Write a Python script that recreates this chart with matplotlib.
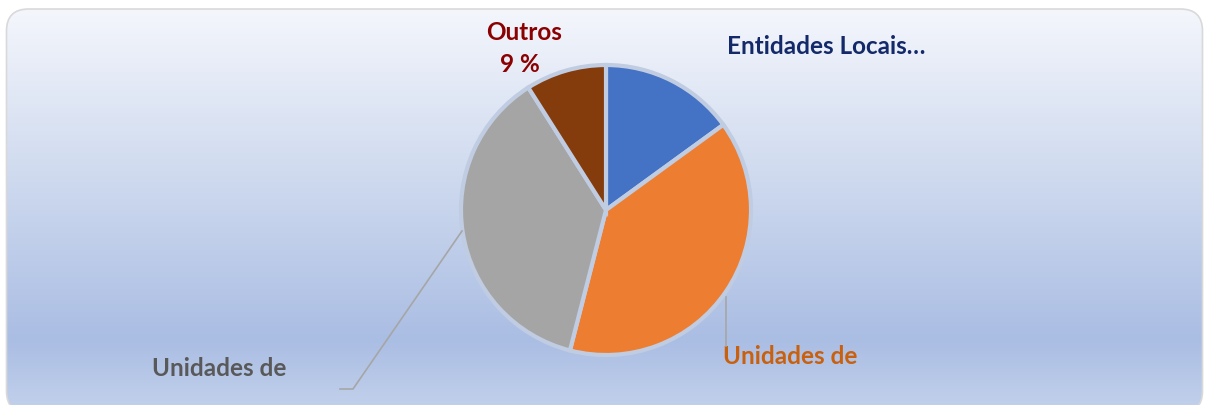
import numpy as np
import matplotlib
matplotlib.use("Agg")
import matplotlib.pyplot as plt
from matplotlib.patches import FancyBboxPatch
from matplotlib.colors import LinearSegmentedColormap

categories = ["Entidades Locais…", "Unidades de", "Unidades de", "Outros"]
values = [15, 39, 37, 9]
colors = ["#4472c4", "#ed7d31", "#a5a5a5", "#843c0c"]
label_colors = ["#13296a", "#c9600e", "#595959", "#8b0000"]

W, H = 1206, 406
fig = plt.figure(figsize=(W / 100, H / 100), dpi=100)
ax = fig.add_axes([0, 0, 1, 1])

cx, cy, r = 606, H - 211, 145
wedges, _ = ax.pie(values, colors=colors, startangle=90, counterclock=False,
                   center=(cx, cy), radius=r, explode=[0, 0.03, 0.02, 0],
                   wedgeprops=dict(edgecolor="#c0cce2", linewidth=3),
                   frame=True)
ax.set_xlim(0, W)
ax.set_ylim(0, H)
ax.set_aspect("equal")
ax.axis("off")

# background gradient inside rounded frame (bottom edge runs off the image)
frame = FancyBboxPatch((6.5, -8), W - 10, H - 10 + 8,
                       boxstyle="round,pad=0,rounding_size=22",
                       facecolor="none", edgecolor="#d9d9d9", linewidth=1.2, zorder=3)
ax.add_patch(frame)
cmap = LinearSegmentedColormap.from_list(
    "bg", [(0.0, "#c3d2ec"), (0.18, "#aabde3"), (0.6, "#d0dbef"), (1.0, "#f4f6fc")])
grad = np.linspace(0, 1, 256).reshape(-1, 1)
im = ax.imshow(grad, extent=(6, W - 3, -8, H - 10), origin="lower", cmap=cmap,
               aspect="auto", zorder=0)
im.set_clip_path(frame)
ax.set_xlim(0, W)
ax.set_ylim(0, H)

font = "Lato"
fs = 17.5
ax.text(826, H - 47, categories[0], color=label_colors[0], fontsize=fs,
        fontweight="bold", family=font, ha="center", va="center")
ax.text(790, H - 357, categories[1], color=label_colors[1], fontsize=fs,
        fontweight="bold", family=font, ha="center", va="center")
ax.text(219, H - 369, categories[2], color=label_colors[2], fontsize=fs,
        fontweight="bold", family=font, ha="center", va="center")
ax.text(524, H - 32, categories[3], color=label_colors[3], fontsize=fs,
        fontweight="bold", family=font, ha="center", va="center")
ax.text(520, H - 65, f"{values[3]} %", color=label_colors[3], fontsize=fs,
        fontweight="bold", family=font, ha="center", va="center")

# leader lines
ax.plot([726, 726], [H - 298, H - 347], color="#a6a6a6", lw=1.2, zorder=4)
ax.plot([462, 353, 340], [H - 232, H - 390, H - 390], color="#a6a6a6", lw=1.2, zorder=4)

fig.savefig("out.png", dpi=100)
